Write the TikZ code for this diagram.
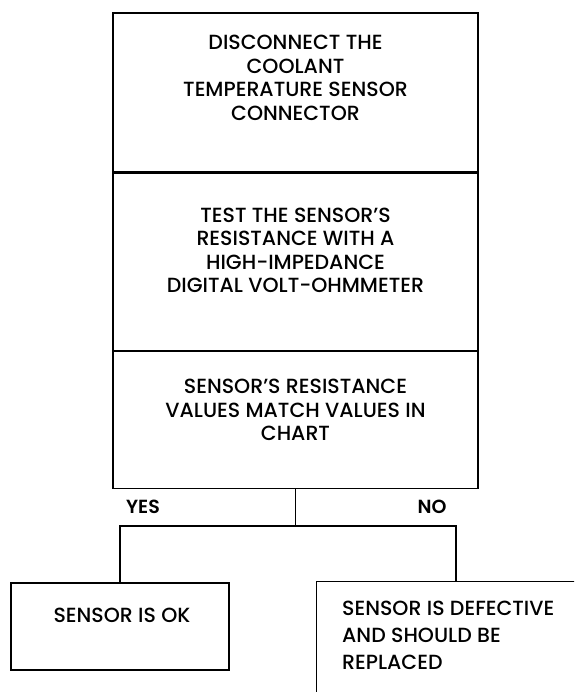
\documentclass[tikz,border=0pt]{standalone}
\usepackage{fontspec}
\setmainfont{Poppins}[UprightFont=* Medium, BoldFont=* SemiBold]
\usetikzlibrary{positioning}

\begin{document}
\begin{tikzpicture}[x=1pt, y=-1pt,
      font=\fontsize{20.5}{23.5}\selectfont,
      kasten/.style={draw, line width=1.2pt, minimum width=365pt, inner sep=0pt},
      schrift/.style={align=center, inner sep=0pt},
      ast/.style={line width=1.2pt}
    ]
    \clip (0,0) rectangle (574,692);
    \fill[white] (0,0) rectangle (574,692);

    \node[kasten, minimum height=159pt] (a) at (295.5,92.5) {};
    \node[kasten, minimum height=177pt, below=0pt of a] (b) {};
    \node[kasten, minimum height=137pt, below=0pt of b] (c) {};

    \node[schrift] (ta) at ([yshift=14.5pt]a.center) {DISCONNECT THE\\
      COOLANT\\ TEMPERATURE SENSOR\\ CONNECTOR};
    \node[schrift] (tb) at ([yshift=11.5pt]b.center) {TEST THE SENSOR'S\\
      RESISTANCE WITH A\\ HIGH-IMPEDANCE\\ DIGITAL VOLT-OHMMETER};
    \node[schrift] (tc) at ([yshift=10pt]c.center) {SENSOR'S RESISTANCE\\
      VALUES MATCH VALUES IN\\ CHART};

    \node[kasten, minimum width=218pt, minimum height=87pt] (ok) at (120,626.5) {};
    \node[schrift] (tok) at (122,615) {SENSOR IS OK};
    \node[kasten, minimum width=300pt, minimum height=140pt, anchor=north west]
      (def) at (316,581) {};
    \node[schrift, align=left, anchor=north west, font=\fontsize{20.5}{27}\selectfont]
      (tdef) at (342,601) {SENSOR IS DEFECTIVE\\ AND SHOULD BE\\ REPLACED};

    \coordinate[below=37pt of c.south] (jn);
    \draw[ast] (c.south) -- (jn) -| (ok.north);
    \draw[ast] (jn) -| ([xshift=140pt]def.north west);

    \node[schrift, font=\fontsize{19}{21}\bfseries] (ja) at (143,507) {YES};
    \node[schrift, font=\fontsize{19}{21}\bfseries] (nein) at (432,507) {NO};
  \end{tikzpicture}
\end{document}
